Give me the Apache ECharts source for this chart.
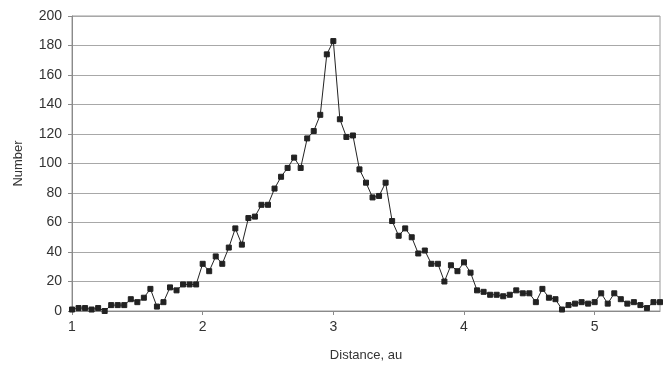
<!DOCTYPE html>
<html>
<head>
<meta charset="utf-8">
<script src="https://cdn.jsdelivr.net/npm/echarts@6/dist/echarts.min.js"></script>
<style>
  html, body { margin: 0; padding: 0; background: #fff; }
  #chart { width: 667px; height: 370px; }
</style>
</head>
<body>
<div id="chart"></div>
<script>
// Distance sampling: 1.00 au to 5.50 au in 0.05 au steps
const distStart = 1.0;
const distStep = 0.05;

// Number of objects per distance bin
const counts = [
  1, 2, 2, 1, 2, 0, 4, 4, 4, 8,
  6, 9, 15, 3, 6, 16, 14, 18, 18, 18,
  32, 27, 37, 32, 43, 56, 45, 63, 64, 72,
  72, 83, 91, 97, 104, 97, 117, 122, 133, 174,
  183, 130, 118, 119, 96, 87, 77, 78, 87, 61,
  51, 56, 50, 39, 41, 32, 32, 20, 31, 27,
  33, 26, 14, 13, 11, 11, 10, 11, 14, 12,
  12, 6, 15, 9, 8, 1, 4, 5, 6, 5,
  6, 12, 5, 12, 8, 5, 6, 4, 2, 6,
  6
];

const xTicks = [1, 2, 3, 4, 5];
const yTicks = [0, 20, 40, 60, 80, 100, 120, 140, 160, 180, 200];

const distances = counts.map((_, i) => +(distStart + i * distStep).toFixed(2));
const points = counts.map((c, i) => [distances[i], c]);

const chart = echarts.init(document.getElementById('chart'), null, { renderer: 'canvas' });
const textColor = '#333';
const font = 'Liberation Sans, Arial, sans-serif';

chart.setOption({
  animation: false,
  backgroundColor: '#fff',
  grid: {
    left: 72, right: 7, top: 16, bottom: 59,
    show: true, borderColor: '#9a9a9a', borderWidth: 1
  },
  xAxis: {
    type: 'value',
    min: xTicks[0],
    max: 5.5,
    interval: 1,
    name: 'Distance, au',
    nameLocation: 'middle',
    nameGap: 38,
    nameTextStyle: { color: textColor, fontSize: 13, fontFamily: font },
    axisLine: { show: true, lineStyle: { color: '#8a8a8a', width: 1 } },
    axisTick: { show: true, length: 4, lineStyle: { color: '#8a8a8a' } },
    axisLabel: {
      color: textColor, fontSize: 14, fontFamily: font, margin: 9,
      showMaxLabel: false,
      formatter: v => xTicks.includes(v) ? String(v) : ''
    },
    splitLine: { show: false }
  },
  yAxis: {
    type: 'value',
    min: yTicks[0],
    max: yTicks[yTicks.length - 1],
    interval: 20,
    name: 'Number',
    nameLocation: 'middle',
    nameGap: 47,
    nameRotate: 90,
    nameTextStyle: { color: textColor, fontSize: 13, fontFamily: font },
    axisLine: { show: true, lineStyle: { color: '#8a8a8a', width: 1 } },
    axisTick: { show: true, length: 4, lineStyle: { color: '#8a8a8a' } },
    axisLabel: { color: textColor, fontSize: 14, fontFamily: font, margin: 10 },
    splitLine: { show: true, lineStyle: { color: '#a8a8a8', width: 1 } }
  },
  series: [{
    type: 'line',
    data: points,
    symbol: 'rect',
    symbolSize: 5,
    showAllSymbol: true,
    lineStyle: { color: '#222', width: 1 },
    itemStyle: { color: '#222', borderColor: '#222' }
  }]
});
</script>
</body>
</html>
